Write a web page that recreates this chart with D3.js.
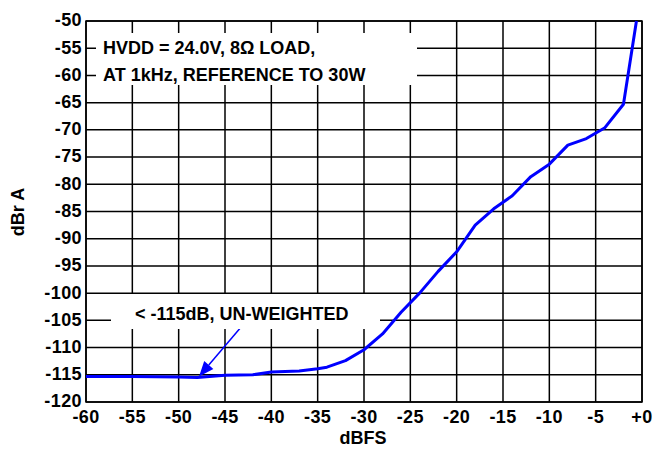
<!DOCTYPE html>
<html>
<head>
<meta charset="utf-8">
<script src="https://cdn.jsdelivr.net/npm/d3@7"></script>
<style>
  body { margin: 0; background: #fff; }
  text { font-family: "Liberation Sans", Arial, sans-serif; font-weight: bold; }
</style>
</head>
<body>
<div id="chart"></div>
<script>
var svgWidth = 654;
var svgHeight = 449;

var margin = { top: 21, right: 12, bottom: 47, left: 86 };
var width = 642 - margin.left;
var height = 402 - margin.top;

// data
var dbfs = [-60, -55, -50, -48, -45, -42, -40, -37, -35, -34, -32, -30, -28, -26, -24, -22, -20, -18, -16, -14, -12, -10, -8, -6, -4, -2, -0.6];
var dbrA = [-115.3, -115.3, -115.4, -115.5, -115.1, -115.0, -114.5, -114.3, -113.9, -113.6, -112.4, -110.4, -107.5, -103.5, -100.0, -96.0, -92.4, -87.5, -84.5, -82.1, -78.6, -76.3, -72.8, -71.6, -69.6, -65.3, -50];

var xTicks = [-60, -55, -50, -45, -40, -35, -30, -25, -20, -15, -10, -5, 0];
var yTicks = [-50, -55, -60, -65, -70, -75, -80, -85, -90, -95, -100, -105, -110, -115, -120];

var noteLines = ["HVDD = 24.0V, 8\u03A9 LOAD,", "AT 1kHz, REFERENCE TO 30W"];
var noiseNote = "< -115dB, UN-WEIGHTED";

var fontSize = 18;

var svg = d3.select("#chart")
  .append("svg")
  .attr("width", svgWidth)
  .attr("height", svgHeight);

var chartGroup = svg.append("g")
  .attr("transform", `translate(${margin.left}, ${margin.top})`);

var x = d3.scaleLinear().domain([-60, 0]).range([0, width]);
var y = d3.scaleLinear().domain([-120, -50]).range([height, 0]);

// grid
chartGroup.append("g")
  .selectAll("line")
  .data(xTicks)
  .enter()
  .append("line")
  .attr("x1", d => x(d)).attr("x2", d => x(d))
  .attr("y1", 0).attr("y2", height)
  .attr("stroke", "#000").attr("stroke-width", 1.5);

chartGroup.append("g")
  .selectAll("line")
  .data(yTicks)
  .enter()
  .append("line")
  .attr("x1", 0).attr("x2", width)
  .attr("y1", d => y(d)).attr("y2", d => y(d))
  .attr("stroke", "#000").attr("stroke-width", 1.5);

chartGroup.append("rect")
  .attr("width", width).attr("height", height)
  .attr("fill", "none").attr("stroke", "#000").attr("stroke-width", 1.5);

// tick labels
chartGroup.append("g")
  .selectAll("text")
  .data(yTicks)
  .enter()
  .append("text")
  .attr("x", -4)
  .attr("y", d => y(d))
  .attr("dy", "0.3em")
  .attr("text-anchor", "end")
  .attr("font-size", fontSize)
  .attr("letter-spacing", 0.4)
  .text(d => d);

chartGroup.append("g")
  .selectAll("text")
  .data(xTicks)
  .enter()
  .append("text")
  .attr("x", d => x(d))
  .attr("y", height + 21)
  .attr("text-anchor", "middle")
  .attr("font-size", fontSize)
  .attr("letter-spacing", 0.4)
  .text(d => d === 0 ? "+0" : d);

// axis titles
svg.append("text")
  .attr("transform", "translate(24, 212) rotate(-90)")
  .attr("text-anchor", "middle")
  .attr("font-size", fontSize)
  .text("dBr A");

svg.append("text")
  .attr("x", 363)
  .attr("y", 444)
  .attr("text-anchor", "middle")
  .attr("font-size", fontSize)
  .text("dBFS");

// note boxes
svg.append("rect")
  .attr("x", 96).attr("y", 33).attr("width", 321).attr("height", 52)
  .attr("fill", "#fff");
svg.append("g")
  .selectAll("text")
  .data(noteLines)
  .enter()
  .append("text")
  .attr("x", 103)
  .attr("y", (d, i) => 54 + i * 27)
  .attr("font-size", fontSize)
  .text(d => d);

svg.append("rect")
  .attr("x", 111).attr("y", 294).attr("width", 269).attr("height", 35)
  .attr("fill", "#fff");
svg.append("text")
  .attr("x", 135)
  .attr("y", 320)
  .attr("font-size", fontSize)
  .text(noiseNote);

// curve
var points = dbfs.map((d, i) => [d, dbrA[i]]);
var line = d3.line().x(d => x(d[0])).y(d => y(d[1]));

chartGroup.append("path")
  .datum(points)
  .attr("d", line)
  .attr("fill", "none")
  .attr("stroke", "#0000ff")
  .attr("stroke-width", 3)
  .attr("stroke-linejoin", "round");

// arrow to the noise floor
var arrowTail = [-43.4, -106.5];
var arrowTip = [-47.8, -115.3];
var tx = x(arrowTail[0]), ty = y(arrowTail[1]);
var hx = x(arrowTip[0]), hy = y(arrowTip[1]);
var ang = Math.atan2(hy - ty, hx - tx);
var headLen = 15, headW = 6;
var bx = hx - headLen * Math.cos(ang), by = hy - headLen * Math.sin(ang);

chartGroup.append("line")
  .attr("x1", tx).attr("y1", ty)
  .attr("x2", bx).attr("y2", by)
  .attr("stroke", "#0000ff").attr("stroke-width", 1.5);

chartGroup.append("path")
  .attr("d", `M${hx},${hy}L${bx + headW * Math.sin(ang)},${by - headW * Math.cos(ang)}L${bx - headW * Math.sin(ang)},${by + headW * Math.cos(ang)}Z`)
  .attr("fill", "#0000ff");
</script>
</body>
</html>
